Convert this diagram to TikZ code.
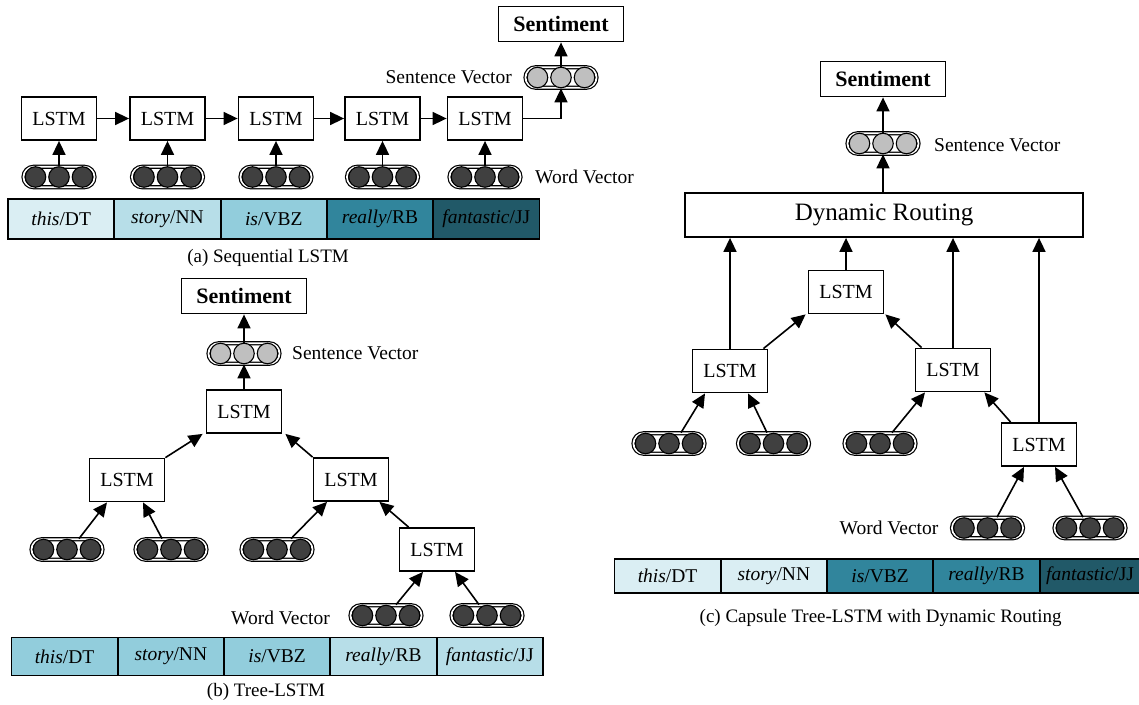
\documentclass[tikz,border=0pt]{standalone}
\usepackage{fontspec}
\setmainfont{Liberation Serif}[
  ItalicFont={Liberation Serif Italic},
  BoldFont={Liberation Serif Bold},
  BoldItalicFont={Liberation Serif Bold Italic}]
\usetikzlibrary{arrows.meta,shapes.misc,calc}

\definecolor{aqua80}{HTML}{DAEEF3}
\definecolor{aqua60}{HTML}{B7DEE8}
\definecolor{aqua40}{HTML}{92CDDC}
\definecolor{teal25}{HTML}{31859C}
\definecolor{teal50}{HTML}{215968}
\definecolor{dotdark}{HTML}{404040}
\definecolor{dotlight}{HTML}{BFBFBF}

\tikzset{
  lstm/.style={draw, line width=1.8, fill=white, minimum width=75, minimum height=43,
    inner sep=0, font=\fontsize{20}{20}\selectfont},
  sentbox/.style={draw, line width=1.8, minimum width=125, minimum height=35,
    inner sep=0, font=\fontsize{22}{22}\selectfont\bfseries},
  routing/.style={draw, line width=1.8, minimum width=398, minimum height=44,
    inner sep=0, font=\fontsize{25}{25}\selectfont},
  capsule/.style={rounded rectangle, draw, line width=1.2, double, double distance=1.8,
    minimum width=71, minimum height=20.5, inner sep=0},
  dot/.style={circle, draw, line width=1.1, minimum size=20.5, inner sep=0},
  vlabel/.style={inner sep=0, font=\fontsize{19.5}{19.5}\selectfont},
  caption/.style={inner sep=0, font=\fontsize{19}{19}\selectfont},
  cell/.style={draw, line width=1.8, minimum width=106.3, inner sep=0, outer sep=0,
    font=\fontsize{19.5}{19.5}\selectfont},
  lastcell/.style={},
  arr/.style={-{Triangle[length=14pt,width=13pt]}, line width=1.6},
}

% word / sentence vector: a double-outlined capsule holding three dots
\newcommand\vcap[3]{%
  \node[capsule] (#1) at (#2) {};
  \foreach \dx in {-23.5,0,23.5}
    \node[dot, fill=#3] at ([xshift=\dx]#1.center) {};
}

% a strip of five tagged words; #1 prefix, #2 left x, #3 centre y, #4 height,
% #5..#9 cell fills
\newcommand\wordstrip[9]{%
  \node[cell, minimum height=#4, fill=#5, anchor=west] (#1w1) at (#2,#3) {\textit{this}/DT};
  \node[cell, minimum height=#4, fill=#6, anchor=west] (#1w2) at (#1w1.east) {\textit{story}/NN};
  \node[cell, minimum height=#4, fill=#7, anchor=west] (#1w3) at (#1w2.east) {\textit{is}/VBZ};
  \node[cell, minimum height=#4, fill=#8, anchor=west] (#1w4) at (#1w3.east) {\textit{really}/RB};
  \node[cell, minimum height=#4, fill=#9, anchor=west, lastcell] (#1w5) at (#1w4.east) {\textit{fantastic}/JJ};
}

\begin{document}
\begin{tikzpicture}[x=1pt, y=-1pt]
\useasboundingbox (0,0) rectangle (1139,704);
\clip (0,0) rectangle (1139,704);

%% ---------------- (a) Sequential LSTM ----------------
\node[sentbox] (aS) at (561,24) {Sentiment};
\vcap{aSV}{561,77.5}{dotlight}
\node[vlabel, anchor=east] (aSVl) at (512,77.5) {Sentence Vector};
\foreach \i/\x in {1/59, 2/167.5, 3/276, 4/382.5, 5/485} {
  \node[lstm] (aL\i) at (\x,118.5) {LSTM};
  \vcap{aW\i}{\x,177}{dotdark}
  \draw[arr] (aW\i.north) -- (aL\i.south);
}
\foreach \i/\j in {1/2, 2/3, 3/4, 4/5}
  \draw[arr] (aL\i.east) -- (aL\j.west);
\draw[arr] (aL5.east) -| (aSV.south);
\draw[arr] (aSV.north) -- (aS.south);
\node[vlabel, anchor=west] (aWl) at (535,177) {Word Vector};
\wordstrip{a}{8}{219}{40}{aqua80}{aqua60}{aqua40}{teal25}{teal50}
\node[caption] (aC) at (268,257.5) {(a) Sequential LSTM};

%% ---------------- (b) Tree-LSTM ----------------
\node[sentbox] (bS) at (244,296) {Sentiment};
\vcap{bSV}{244,353.5}{dotlight}
\node[vlabel, anchor=west] (bSVl) at (292,353.5) {Sentence Vector};
\node[lstm] (bT) at (244,411.5) {LSTM};
\node[lstm] (bL) at (127,480) {LSTM};
\node[lstm] (bR) at (351,479.5) {LSTM};
\node[lstm] (bRR) at (437,549.5) {LSTM};
\vcap{bW1}{67,549.5}{dotdark}
\vcap{bW2}{171,549.5}{dotdark}
\vcap{bW3}{277,549.5}{dotdark}
\vcap{bW4}{386,615.5}{dotdark}
\vcap{bW5}{487,615.5}{dotdark}
\node[vlabel, anchor=east] (bWl) at (330,618) {Word Vector};
\draw[arr] (bSV.north) -- (bS.south);
\draw[arr] (bT.north) -- (bSV.south);
\draw[arr] (bL.north east) -- ([xshift=-3]bT.south west);
\draw[arr] (bR.north west) -- ([xshift=3]bT.south east);
\draw[arr] ([xshift=12]bW1.north) -- ([xshift=-20]bL.south);
\draw[arr] ([xshift=-9]bW2.north) -- ([xshift=16]bL.south);
\draw[arr] ([xshift=14]bW3.north) -- ([xshift=-24]bR.south);
\draw[arr] ([xshift=10]bRR.north west) -- ([xshift=-10]bR.south east);
\draw[arr] ([xshift=10]bW4.north) -- ([xshift=-14]bRR.south);
\draw[arr] ([xshift=-8]bW5.north) -- ([xshift=18]bRR.south);
\wordstrip{b}{11.4}{656.5}{38}{aqua40}{aqua40}{aqua40}{aqua60}{aqua60}
\node[caption] (bC) at (266,692) {(b) Tree-LSTM};

%% ---------------- (c) Capsule Tree-LSTM ----------------
\node[sentbox] (cS) at (883,79) {Sentiment};
\vcap{cSV}{883,143.5}{dotlight}
\node[vlabel, anchor=west] (cSVl) at (934,145) {Sentence Vector};
\node[routing] (cDR) at (884,215) {Dynamic Routing};
\node[lstm] (cT) at (846,292) {LSTM};
\node[lstm] (cL) at (730,371) {LSTM};
\node[lstm] (cR) at (953,370) {LSTM};
\node[lstm] (cB) at (1039,444.5) {LSTM};
\vcap{cW1}{669,443.5}{dotdark}
\vcap{cW2}{773.5,443.5}{dotdark}
\vcap{cW3}{880,443.5}{dotdark}
\vcap{cW4}{987.5,528}{dotdark}
\vcap{cW5}{1090,528}{dotdark}
\node[vlabel, anchor=east] (cWl) at (938.5,528) {Word Vector};
\draw[arr] (cSV.north) -- (cS.south);
\draw[arr] (cDR.north -| cSV.south) -- (cSV.south);
\foreach \n in {cL, cT, cR, cB}
  \draw[arr] (\n.north) -- (\n.north |- cDR.south);
\draw[arr] ([xshift=-5]cL.north east) -- ([xshift=-2]cT.south west);
\draw[arr] ([xshift=7]cR.north west) -- ([xshift=1]cT.south east);
\draw[arr] ([xshift=10]cB.north west) -- ([xshift=-7]cR.south east);
\draw[arr] ([xshift=12]cW1.north) -- ([xshift=-25]cL.south);
\draw[arr] ([xshift=-6.5]cW2.north) -- ([xshift=18]cL.south);
\draw[arr] ([xshift=12]cW3.north) -- ([xshift=-28]cR.south);
\draw[arr] ([xshift=9.5]cW4.north) -- ([xshift=-15]cB.south);
\draw[arr] ([xshift=-7]cW5.north) -- ([xshift=16]cB.south);
% the last cell of this strip runs up to the right edge
\tikzset{lastcell/.style={minimum width=101}}
\wordstrip{c}{614.4}{576}{34}{aqua80}{aqua80}{teal25}{teal25}{teal50}
\node[caption] (cC) at (880.6,618) {(c) Capsule Tree-LSTM with Dynamic Routing};
\end{tikzpicture}
\end{document}
